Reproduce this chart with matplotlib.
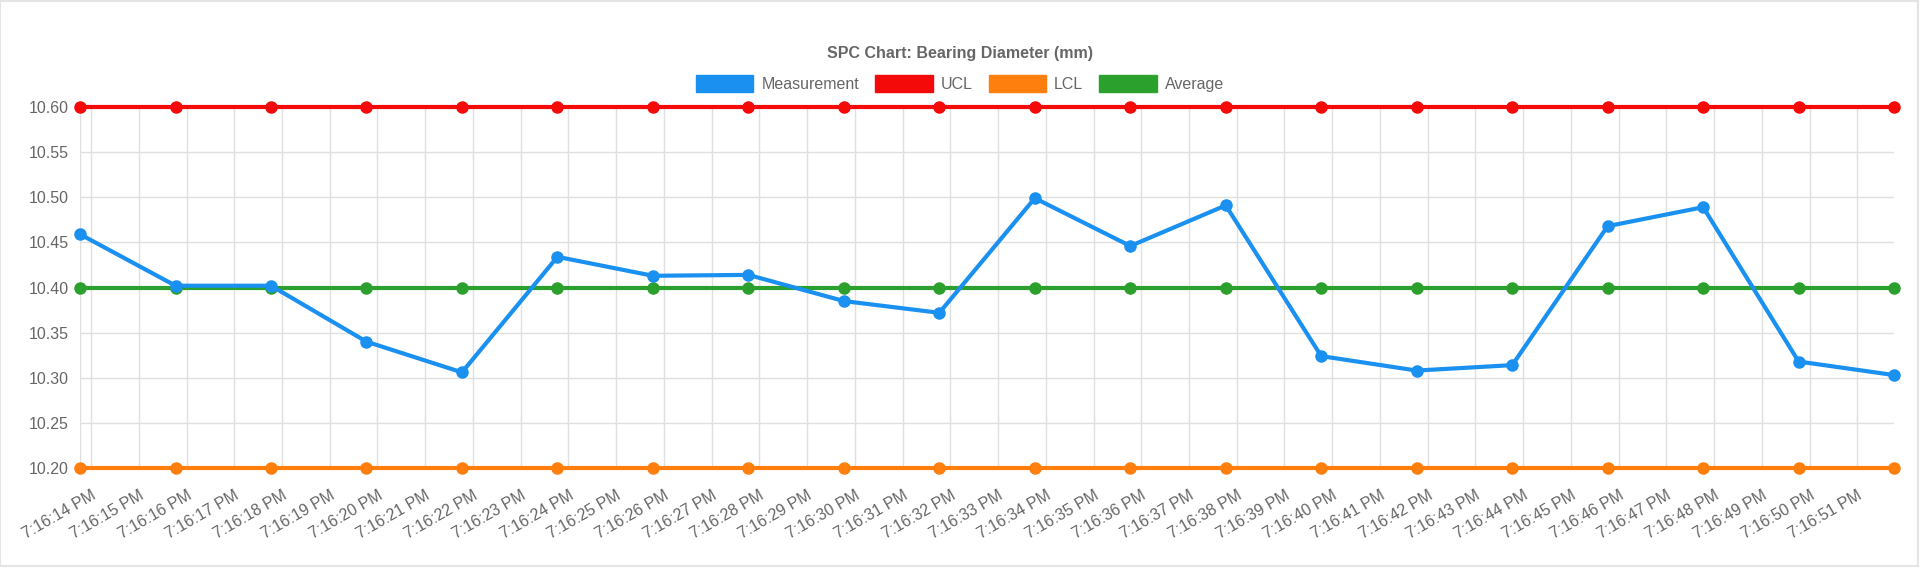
import matplotlib.pyplot as plt
from matplotlib.patches import Patch, Rectangle
import numpy as np

# sample times, seconds past 7:16 PM
times = [13.77 + 2 * i for i in range(20)]
measurement = [10.459, 10.402, 10.402, 10.340, 10.306, 10.434, 10.413, 10.414, 10.385, 10.372,
               10.499, 10.446, 10.491, 10.324, 10.308, 10.314, 10.468, 10.489, 10.318, 10.303]
ucl = [10.6] * 20
lcl = [10.2] * 20
average = [10.4] * 20
tick_secs = list(range(14, 52))
tick_labels = ["7:16:%d PM" % s for s in tick_secs]
y_ticks = [10.20, 10.25, 10.30, 10.35, 10.40, 10.45, 10.50, 10.55, 10.60]

plt.rcParams['font.family'] = 'Liberation Sans'
fig = plt.figure(figsize=(19.2, 5.68), dpi=100)
ax = fig.add_axes([0.0417, 0.176, 0.9448, 0.6356])

series = [("Measurement", measurement, "#1a90f0"),
          ("UCL", ucl, "#f50a0a"),
          ("LCL", lcl, "#ff7f0e"),
          ("Average", average, "#2ca02c")]
for name, vals, col in reversed(series):
    ax.plot(times, vals, color=col, lw=3, marker='o', ms=8, clip_on=False, zorder=3)

ax.set_xlim(times[0], times[-1])
ax.set_ylim(10.2, 10.6)
ax.set_yticks(y_ticks)
ax.set_yticklabels(["%.2f" % v for v in y_ticks])
ax.set_xticks(tick_secs)
ax.set_xticklabels(tick_labels, rotation=30, ha='right', rotation_mode='anchor')
ax.grid(True, color='#e0e0e0', lw=1)
ax.axvline(times[0], color='#e0e0e0', lw=1)
for s in ax.spines.values():
    s.set_visible(False)
ax.tick_params(length=0, labelsize=11.5, labelcolor='#666666', pad=8)
ax.tick_params(axis='x', pad=14)

fig.text(0.5, 0.905, "SPC Chart: Bearing Diameter (mm)", ha='center', va='center',
         fontsize=11.5, fontweight='bold', color='#666666')
handles = [Patch(facecolor=c, edgecolor=c, label=n) for n, v, c in series]
fig.legend(handles=handles, loc='center', bbox_to_anchor=(0.5, 0.853), ncol=4, frameon=False,
           handlelength=3.6, handleheight=1.2, fontsize=11.5, labelcolor='#666666',
           columnspacing=1.0, handletextpad=0.5)

fig.patches.append(Rectangle((0.0, 0.003), 0.999, 0.996, transform=fig.transFigure,
                             fill=False, edgecolor='#e4e4e4', lw=1.5))
fig.savefig("out.png", dpi=100)
